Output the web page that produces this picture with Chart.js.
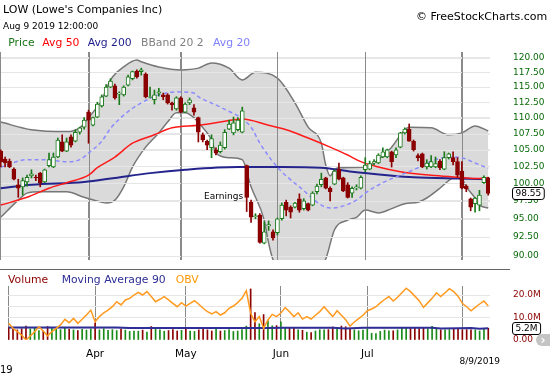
<!DOCTYPE html>
<html><head><meta charset="utf-8">
<script src="https://cdn.jsdelivr.net/npm/chart.js@4.4.0/dist/chart.umd.min.js"></script>
<style>
html,body{margin:0;padding:0;background:#fff;}
#wrap{position:relative;width:550px;height:375px;overflow:hidden;font-family:'DejaVu Sans',Verdana,sans-serif;}
.t{position:absolute;white-space:nowrap;line-height:1;}
canvas{position:absolute;left:0;}
#c1{top:0;}
#c2{top:270px;}
#sep{position:absolute;left:0;top:269px;width:510px;height:0;border-top:1px solid #666;}
#icon{position:absolute;left:536px;top:334px;width:14px;height:12px;background:#C4C4C4;border-radius:6px 0 0 6px;color:#fff;font-size:12px;line-height:12px;text-align:center;font-weight:bold;}
</style></head><body>
<div id="wrap">
<canvas id="c1" width="550" height="270"></canvas>
<canvas id="c2" width="550" height="105"></canvas>
<div id="sep"></div>
<div class="t" style="left:3px;top:4px;font-size:11px;color:#000">LOW (Lowe's Companies Inc)</div>
<div class="t" style="left:3px;top:21.7px;font-size:9px;color:#000">Aug 9 2019 12:00:00</div>
<div class="t" style="left:416px;top:11.4px;font-size:11px;color:#000">© FreeStockCharts.com</div>
<div class="t" style="left:8.3px;top:37.6px;font-size:10.8px;color:#177517">Price</div>
<div class="t" style="left:42.3px;top:37.6px;font-size:10.8px;color:#FF0000">Avg 50</div>
<div class="t" style="left:87.7px;top:37.6px;font-size:10.8px;color:#1C1C8A">Avg 200</div>
<div class="t" style="left:141px;top:37.6px;font-size:10.8px;color:#808080">BBand 20 2</div>
<div class="t" style="left:213px;top:37.6px;font-size:10.8px;color:#8080FF">Avg 20</div>
<div class="t" style="left:8px;top:274.9px;font-size:10.8px;color:#8B0000">Volume</div>
<div class="t" style="left:61.7px;top:274.9px;font-size:10.8px;color:#2E2E96">Moving Average 90</div>
<div class="t" style="left:175.7px;top:274.9px;font-size:10.8px;color:#FF9900">OBV</div>
<div class="t" style="left:459.5px;top:357.4px;font-size:9px;color:#000">8/9/2019</div>
<div class="t" style="left:0px;top:364.8px;font-size:10px;color:#000">19</div>
<div id="icon">›</div>
</div>
<script>
// ---- categories / ticks ----
const monthStarts = [20, 41, 63, 83, 105];           // trading-day index of Apr 1, May 1, Jun 3, Jul 1, Aug 1
const monthTickLabels = ['Apr', 'May', 'Jun', 'Jul', ''];
const priceTicks = [90, 92.5, 95, 97.5, 100, 102.5, 105, 107.5, 110, 112.5, 115, 117.5, 120];
const volumeTicks = [0, 5, 10, 15, 20];               // millions
const earningsLabel = 'Earnings';
const earningsIdx = 56;
const earningsPrice = 97.8;

// ---- daily OHLC (Mar 4 .. Aug 9 2019) ----
const opens = [
104.8,103.6,103.3,102.1,99.8,99.5,100.2,101.1,100.9,101.5,
100.2,102.6,102.4,103.9,106.2,104.8,107.0,106.3,107.7,108.5,
110.9,108.8,110.1,111.9,113.5,115.0,115.2,113.8,113.7,115.3,
116.4,117.7,117.6,117.2,113.3,112.9,114.0,113.7,113.7,112.4,
111.4,113.2,110.9,112.4,111.6,110.0,107.3,106.3,105.3,105.0,
104.7,105.3,108.2,107.6,108.1,107.7,102.6,97.3,95.3,95.5,
91.7,94.0,93.2,93.1,95.0,97.3,96.6,96.6,97.8,96.4,
97.1,96.9,98.8,99.8,100.8,99.3,99.9,102.1,100.8,99.8,
98.6,99.35,99.3,102.0,102.1,103.0,103.0,103.9,103.9,104.7,
104.2,105.4,107.6,108.2,106.3,104.1,104.4,102.4,102.4,102.4,
103.3,102.1,103.8,103.8,103.2,101.8,99.6,97.8,97.1,96.9,
100.1,100.8];
const highs = [
105.0,103.9,103.6,102.3,100.6,100.8,101.2,102.0,101.2,101.6,
102.1,104.5,104.5,106.8,107.3,106.8,107.3,108.1,108.5,110.0,
111.2,110.1,112.5,113.7,115.4,116.4,115.5,114.2,115.2,117.0,
117.7,117.9,118.2,117.4,115.0,114.5,114.8,114.0,113.9,112.5,
113.4,113.4,112.4,113.2,112.1,110.1,107.6,106.5,107.3,105.3,
106.2,108.1,109.6,110.1,110.0,111.7,102.7,97.6,95.7,95.7,
94.6,94.7,93.5,95.1,97.2,97.6,96.8,97.3,98.5,97.8,
97.2,98.8,99.9,101.5,100.9,99.5,102.0,103.0,100.9,100.1,
99.5,99.8,101.1,103.8,103.3,103.5,104.4,105.3,105.1,104.8,
105.3,107.7,108.4,109.0,106.5,104.4,104.5,103.5,104.1,103.9,
103.5,104.7,104.5,104.7,103.8,103.2,99.8,97.9,98.0,99.0,
101.1,100.9];
const lows = [
102.4,102.4,102.3,100.5,98.0,98.3,99.6,100.8,100.4,99.5,
100.1,102.4,102.3,103.8,104.7,104.7,105.4,106.2,107.4,108.2,
106.0,108.7,110.0,111.7,113.4,114.9,113.0,112.1,113.5,115.2,
116.2,116.5,117.0,113.2,113.2,112.2,113.5,112.9,112.2,111.2,
111.2,110.8,110.8,112.1,110.4,106.2,106.2,105.0,103.8,104.2,
104.5,105.1,108.1,107.3,107.9,107.6,96.0,94.5,95.0,91.7,
91.6,93.4,92.1,92.8,94.8,95.4,95.1,96.5,95.9,96.2,
96.1,96.8,98.5,99.5,99.2,97.5,99.8,100.5,98.8,97.9,
98.0,99.05,99.2,101.7,102.0,102.7,102.9,103.8,103.8,102.4,
103.8,105.3,107.4,106.3,104.8,103.3,102.3,102.1,102.3,102.3,
102.0,102.0,103.6,102.7,100.9,99.2,98.8,96.1,95.9,96.1,
100.0,98.3];
const closes = [
103.2,103.0,102.4,100.6,99.3,100.4,100.9,101.4,100.8,100.1,
102.0,103.5,103.9,106.5,104.8,106.2,105.7,107.7,108.4,109.6,
109.6,110.0,112.2,113.4,115.0,116.0,113.2,114.0,115.0,116.7,
117.6,116.7,117.9,113.4,113.4,113.7,114.2,113.4,112.4,112.1,
113.2,110.9,112.2,112.9,110.9,107.7,106.5,105.7,106.7,104.5,
105.7,107.7,109.0,109.2,109.6,111.1,98.0,95.2,95.4,91.8,
93.2,94.2,92.4,95.0,96.9,96.2,95.9,97.2,96.2,97.5,
96.2,98.6,99.6,100.6,99.3,98.8,101.8,100.6,98.9,98.0,
99.3,99.5,100.9,102.7,102.9,103.2,104.2,104.7,105.0,103.2,
105.0,107.6,108.2,106.3,105.0,103.8,102.4,103.0,103.2,102.9,
102.3,103.8,104.4,103.2,101.2,99.3,99.2,96.6,97.9,98.3,
100.9,98.55];

// ---- indicator lines, [day index, value] ----
const avg20 = [[0,102.4],[6,103.5],[10,103.5],[15,103.2],[18,103.5],[20,104.5],[23,106.3],[25,108.3],[28,110.4],[32,112.4],[36,113.7],[40,114.2],[44,114.0],[45,113.4],[50,111.7],[57,108.5],[59,106.0],[63,102.4],[68,99.5],[75,96.5],[77,96.6],[81,97.6],[83,98.6],[87,100.1],[91,101.2],[94,102.0],[99,103.5],[103,103.9],[105,103.8],[108,103.0],[111,102.2]];
const avg50 = [[0,96.9],[6,98.0],[11,99.3],[15,100.1],[20,101.2],[22,102.3],[26,103.9],[30,106.0],[35,107.3],[39,108.4],[45,108.8],[50,109.3],[55,109.8],[61,108.8],[65,108.1],[70,106.8],[75,105.4],[79,104.2],[82,103.2],[86,102.4],[91,101.7],[98,101.2],[104,100.9],[108,100.7],[111,100.8]];
const avg200 = [[0,99.3],[7,99.8],[19,100.2],[26,100.8],[34,101.5],[42,102.0],[54,102.4],[64,102.4],[73,102.3],[80,101.7],[88,101.2],[94,100.9],[104,100.7],[111,100.6]];
const upperBand = [[0,109.3],[7,108.1],[15,107.8],[18,108.4],[20,110.0],[23,112.9],[25,116.2],[28,118.4],[31,119.6],[32,119.3],[36,118.4],[41,117.9],[45,118.2],[48,119.1],[52,118.2],[55,116.2],[58,117.5],[63,116.5],[67,112.4],[70,108.5],[73,106.0],[74,102.7],[75,101.1],[76,102.0],[77,102.3],[83,102.4],[86,103.5],[89,105.4],[92,108.1],[93,108.5],[98,108.4],[102,107.3],[105,107.6],[108,108.7],[111,107.9]];
const lowerBand = [[0,95.2],[4,97.6],[6,98.6],[9,98.8],[15,98.8],[19,98.0],[23,97.3],[24,97.2],[26,97.6],[28,99.5],[30,102.4],[33,105.4],[36,107.6],[38,109.3],[40,110.8],[42,110.8],[44,110.0],[45,109.2],[48,106.5],[49,104.5],[52,103.8],[55,103.5],[57,99.5],[60,94.8],[61,91.7],[62,89.5],[64,87.6],[66,86.6],[68,86.4],[70,86.9],[72,88.0],[74,89.6],[76,93.5],[79,94.8],[81,95.2],[83,96.2],[86,95.8],[89,96.4],[92,97.1],[95,97.3],[97,97.9],[100,99.3],[102,100.4],[103,100.8],[105,100.6],[106,99.5],[108,97.9],[109,96.9],[111,96.5]];

// ---- volume panel (millions) ----
const volumes = [
5.5,4.8,4.5,5.0,6.2,4.9,5.3,4.2,4.0,6.0,
5.5,5.0,4.6,5.6,4.8,4.5,4.2,4.7,4.4,4.9,
7.5,4.5,5.0,4.3,4.6,4.2,4.8,4.4,3.8,4.0,
3.9,4.4,3.5,6.0,4.8,4.5,3.9,4.2,4.6,4.0,
4.3,4.9,4.0,3.8,4.5,5.3,4.5,4.0,5.5,4.0,
4.2,4.6,3.8,4.0,4.6,6.2,22.7,12.2,7.2,11.3,
8.6,6.3,6.4,8.1,5.6,5.4,5.2,4.5,4.3,3.5,
3.3,4.0,4.6,4.5,4.6,5.8,5.5,6.2,5.9,4.8,
4.5,4.1,4.4,4.9,3.0,2.8,3.8,4.4,4.1,4.1,
4.5,5.2,5.2,5.2,5.2,5.1,5.3,4.9,6.1,4.8,
4.5,4.5,4.6,5.2,5.2,4.5,4.6,4.5,4.5,4.0,
4.8,5.2];
const obv = [
7.4,5.2,3.7,2.2,0.0,1.8,3.7,5.9,4.0,1.8,
3.7,5.2,6.7,9.2,7.7,9.6,7.4,9.2,11.1,13.3,
8.1,10.4,12.1,13.3,14.8,17.0,15.6,17.8,18.5,20.0,
21.2,20.0,21.5,19.3,17.0,18.1,19.3,17.8,16.3,14.8,
16.6,15.1,16.3,17.5,15.9,14.1,12.6,11.6,12.6,11.1,
12.1,14.1,15.1,16.6,18.5,21.9,11.9,8.1,10.4,5.2,
8.9,11.4,10.4,12.0,14.4,12.6,10.4,12.1,9.3,10.4,
9.3,11.0,12.6,14.8,12.6,10.4,13.0,11.0,9.0,6.2,
8.0,9.5,11.0,13.0,13.8,14.8,16.5,18.0,19.3,17.3,
19.0,21.0,23.0,21.5,19.5,17.5,14.5,16.5,18.5,21.0,
19.3,21.0,22.8,21.5,19.5,16.3,14.8,13.0,14.5,16.0,
17.3,15.1];
const volMA90 = [[0,5.6],[25,5.6],[28,5.3],[60,5.3],[63,5.4],[75,5.4],[78,5.1],[82,5.4],[98,5.4],[100,5.1],[104,5.2],[107,5.3],[109,5.0],[111,5.2]];

// ---- drawing ----
const FONT = "'DejaVu Sans', Verdana, sans-serif";
Chart.defaults.font.family = FONT;
const xMin = -0.16, xMax = 111.4;
const GREEN = '#1B7A1B', RED = '#8B0000';
const idx = opens.map((_, i) => i);
const up = i => closes[i] >= opens[i];
const pts = arr => arr.map(([x, y]) => ({x, y}));

function roundBox(ctx, x, y, w, h, r) {
  ctx.beginPath();
  ctx.moveTo(x + r, y); ctx.lineTo(x + w - r, y); ctx.quadraticCurveTo(x + w, y, x + w, y + r);
  ctx.lineTo(x + w, y + h - r); ctx.quadraticCurveTo(x + w, y + h, x + w - r, y + h);
  ctx.lineTo(x + r, y + h); ctx.quadraticCurveTo(x, y + h, x, y + h - r);
  ctx.lineTo(x, y + r); ctx.quadraticCurveTo(x, y, x + r, y); ctx.closePath();
}
function valueBox(ctx, text, yPix) {
  ctx.save();
  ctx.font = '9px ' + FONT;
  const w = ctx.measureText(text).width + 6;
  const x = 512.5, h = 12, y = Math.round(yPix - 6) + 0.5;
  roundBox(ctx, x, y, w, h, 2.5);
  ctx.fillStyle = '#fff'; ctx.fill();
  ctx.strokeStyle = '#000'; ctx.lineWidth = 1; ctx.stroke();
  ctx.fillStyle = '#000'; ctx.textAlign = 'center'; ctx.textBaseline = 'middle';
  ctx.fillText(text, x + w / 2, y + h / 2 + 0.5);
  ctx.restore();
}

const gridOver = {
  id: 'gridOver',
  afterDatasetDraw(chart, args) {
    if (!chart.data.datasets[args.index].gridAfter) return;
    const {ctx, chartArea: a, scales: {x, y}} = chart;
    ctx.save();
    ctx.beginPath(); ctx.rect(a.left, a.top, a.right - a.left, a.bottom - a.top); ctx.clip();
    ctx.lineWidth = 1;
    ctx.strokeStyle = '#E6E6E6';
    y.ticks.forEach(t => {
      const py = Math.round(y.getPixelForValue(t.value)) + 0.5;
      ctx.beginPath(); ctx.moveTo(a.left, py); ctx.lineTo(a.right, py); ctx.stroke();
    });
    ctx.strokeStyle = '#8A8A8A';
    x.ticks.forEach(t => {
      const px = Math.round(x.getPixelForValue(t.value)) + 0.5;
      ctx.beginPath(); ctx.moveTo(px, a.top); ctx.lineTo(px, a.bottom); ctx.stroke();
    });
    ctx.restore();
  }
};
const mainNotes = {
  id: 'mainNotes',
  afterDatasetsDraw(chart) {
    const {ctx, scales: {x, y}} = chart;
    ctx.save();
    ctx.font = '9px ' + FONT; ctx.fillStyle = '#000';
    ctx.textAlign = 'right'; ctx.textBaseline = 'alphabetic';
    ctx.fillText(earningsLabel, x.getPixelForValue(earningsIdx) - 3.5, y.getPixelForValue(earningsPrice));
    ctx.restore();
  },
  afterDraw(chart) {
    const last = closes[closes.length - 1];
    valueBox(chart.ctx, last.toFixed(2), chart.scales.y.getPixelForValue(last));
  }
};
const volNotes = {
  id: 'volNotes',
  afterDraw(chart) {
    const last = volMA90[volMA90.length - 1][1];
    valueBox(chart.ctx, last.toFixed(1) + 'M', chart.scales.y.getPixelForValue(last));
  }
};

const xScaleBase = {
  type: 'linear', min: xMin, max: xMax, offset: false,
  grid: {offset: false, color: '#8A8A8A', lineWidth: 1, drawTicks: false},
  border: {display: false},
  afterBuildTicks: s => { s.ticks = [xMin, ...monthStarts].map(v => ({value: v})); }
};
const yGridBase = {drawTicks: true, tickLength: 23, tickColor: 'rgba(0,0,0,0)'};

new Chart(document.getElementById('c1'), {
  type: 'bar',
  data: {datasets: [
    {type: 'bar', label: 'Price body', data: idx.map(i => ({x: i, y: [opens[i], closes[i]]})),
     backgroundColor: idx.map(i => up(i) ? '#FFFFFF' : RED), borderColor: idx.map(i => up(i) ? GREEN : RED),
     borderWidth: 1, borderSkipped: false, barThickness: 4, grouped: false, order: 0},
    {type: 'bar', label: 'Price range', data: idx.map(i => ({x: i, y: [lows[i], highs[i]]})),
     backgroundColor: idx.map(i => up(i) ? GREEN : RED), barThickness: 1, grouped: false, order: 1},
    {type: 'line', label: 'Avg 20', data: pts(avg20), borderColor: '#8C8CFF', borderDash: [4, 3], borderWidth: 1.5,
     pointRadius: 0, cubicInterpolationMode: 'monotone', fill: false, order: 2},
    {type: 'line', label: 'Avg 50', data: pts(avg50), borderColor: '#FF1A1A', borderWidth: 1.5,
     pointRadius: 0, cubicInterpolationMode: 'monotone', fill: false, order: 3},
    {type: 'line', label: 'Avg 200', data: pts(avg200), borderColor: '#24248C', borderWidth: 2,
     pointRadius: 0, cubicInterpolationMode: 'monotone', fill: false, order: 4},
    {type: 'line', label: 'BBand upper', data: pts(upperBand), borderColor: '#777777', borderWidth: 1.5,
     pointRadius: 0, cubicInterpolationMode: 'monotone', fill: false, order: 5, gridAfter: true},
    {type: 'line', label: 'BBand lower', data: pts(lowerBand), borderColor: '#777777', borderWidth: 1.5,
     pointRadius: 0, cubicInterpolationMode: 'monotone', fill: {target: 5}, backgroundColor: '#DADADA', order: 6}
  ]},
  options: {
    responsive: false, animation: false, devicePixelRatio: 1,
    layout: {padding: {top: 52, bottom: 10, left: 0, right: 0}},
    plugins: {legend: {display: false}, tooltip: {enabled: false}},
    scales: {
      x: Object.assign({}, xScaleBase, {ticks: {display: false}, afterFit: s => { s.height = 0; }}),
      y: {
        type: 'logarithmic', position: 'right', min: 89.48, max: 121.0,
        grid: Object.assign({color: '#E6E6E6'}, yGridBase), border: {display: false},
        ticks: {color: '#0B6B0B', font: {size: 9}, padding: 0, autoSkip: false, callback: v => Number(v).toFixed(2)},
        afterBuildTicks: s => { s.ticks = priceTicks.map(v => ({value: v})); },
        afterFit: s => { s.width = 60; }
      }
    }
  },
  plugins: [gridOver, mainNotes]
});

new Chart(document.getElementById('c2'), {
  type: 'bar',
  data: {datasets: [
    {type: 'line', label: 'OBV', data: obv.map((v, i) => ({x: i, y: v})), borderColor: '#FF9A1F', borderWidth: 1.5,
     pointRadius: 0, tension: 0, fill: false, order: 0},
    {type: 'line', label: 'Moving Average 90', data: pts(volMA90), borderColor: '#2E2E96', borderWidth: 2,
     pointRadius: 0, tension: 0, fill: false, order: 1},
    {type: 'bar', label: 'Volume', data: volumes.map((v, i) => ({x: i, y: v})),
     backgroundColor: idx.map(i => up(i) ? '#178A17' : '#8B0000'), barThickness: 1, order: 2}
  ]},
  options: {
    responsive: false, animation: false, devicePixelRatio: 1,
    layout: {padding: {top: 16, bottom: 0, left: 0, right: 0}},
    plugins: {legend: {display: false}, tooltip: {enabled: false}},
    scales: {
      x: Object.assign({}, xScaleBase, {
        ticks: {display: true, color: '#000', font: {size: 10.5}, padding: 8, maxRotation: 0, autoSkip: false,
                callback: v => { const k = monthStarts.indexOf(v); return k >= 0 ? monthTickLabels[k] : ''; }},
        afterFit: s => { s.height = 35; }
      }),
      y: {
        type: 'linear', position: 'right', min: 0, max: 24,
        grid: Object.assign({color: c => (c.tick && c.tick.value === 0) ? 'rgba(0,0,0,0)' : '#E6E6E6'}, yGridBase),
        border: {display: false},
        ticks: {color: '#8B0000', font: {size: 9}, padding: 0, autoSkip: false,
                callback: v => v === 0 ? '0.00' : (v % 10 === 0 ? v.toFixed(1) + 'M' : '')},
        afterBuildTicks: s => { s.ticks = volumeTicks.map(v => ({value: v})); },
        afterFit: s => { s.width = 60; }
      }
    }
  },
  plugins: [volNotes]
});
</script>
</body></html>
